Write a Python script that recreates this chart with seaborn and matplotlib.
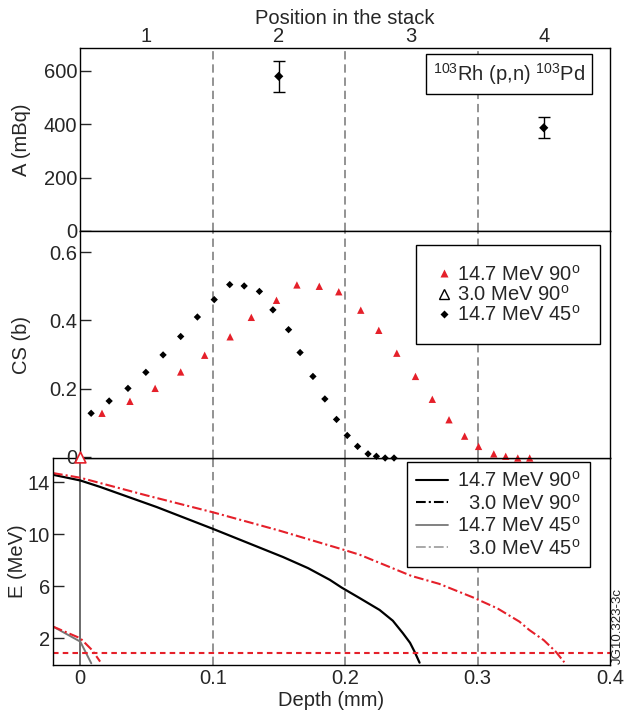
import matplotlib
matplotlib.use("Agg")
import matplotlib.pyplot as plt
import seaborn as sns
from matplotlib.lines import Line2D

# activity of the foils
act_depth = [0.15, 0.35]
act_mbq = [580, 387]
act_err = [58, 40]
pos_depth = [0.05, 0.15, 0.25, 0.35]
pos_labels = ["1", "2", "3", "4"]

# cross sections seen along the stack
cs90_depth = [0.0166, 0.0377, 0.0567, 0.0760, 0.0941, 0.1133, 0.1293, 0.1483, 0.1637, 0.1806, 0.1953, 0.2119,
              0.2255, 0.2391, 0.2532, 0.2659, 0.2785, 0.2903, 0.3008, 0.3123, 0.3213, 0.3304, 0.3394]
cs90 = [0.128, 0.163, 0.201, 0.249, 0.298, 0.352, 0.409, 0.459, 0.504, 0.500, 0.484, 0.430,
        0.371, 0.304, 0.236, 0.169, 0.109, 0.061, 0.031, 0.009, 0.002, -0.003, -0.003]
cs45_depth = [0.0084, 0.0220, 0.0362, 0.0497, 0.0627, 0.0760, 0.0886, 0.1013, 0.1130, 0.1239, 0.1354, 0.1456,
              0.1574, 0.1661, 0.1758, 0.1848, 0.1936, 0.2017, 0.2095, 0.2174, 0.2237, 0.2303, 0.2370]
cs45 = [0.128, 0.164, 0.201, 0.248, 0.299, 0.353, 0.410, 0.461, 0.505, 0.501, 0.485, 0.431,
        0.373, 0.306, 0.236, 0.170, 0.110, 0.063, 0.031, 0.009, 0.002, -0.003, -0.003]
cs3_depth = [0.0]
cs3 = [0.0]

# proton energy vs depth
e147_90_depth = [-0.0206, 0.0, 0.0151, 0.0578, 0.1005, 0.1532, 0.1720, 0.1884, 0.1974, 0.211, 0.226, 0.2360,
                 0.2436, 0.2490, 0.2524, 0.2562]
e147_90 = [14.59, 14.15, 13.65, 12.10, 10.41, 8.25, 7.40, 6.5, 5.9, 5.09, 4.18, 3.35,
           2.39, 1.65, 0.97, 0.12]
e_long_depth = [-0.0206, 0.0, 0.0151, 0.05, 0.1005, 0.15, 0.1974, 0.211, 0.25, 0.271, 0.2969, 0.315, 0.3316,
                0.339, 0.35, 0.359, 0.3655]
e_long = [14.72, 14.36, 13.95, 13.0, 11.69, 10.3, 8.86, 8.43, 6.8, 6.19, 5.13, 4.3, 3.28,
          2.64, 1.85, 0.97, 0.15]
e_short_depth = [-0.0206, 0.0, 0.0088, 0.015]
e_short = [2.9, 2.0, 1.1, 0.2]
e_gray_depth = [-0.0206, 0.0, 0.0083]
e_gray = [2.9, 1.74, 0.07]
e_threshold = 0.9

red = "#e5202a"
sns.set_style("white")
plt.rcParams["font.family"] = ["Liberation Sans", "DejaVu Sans"]
plt.rcParams["mathtext.fontset"] = "custom"
plt.rcParams["mathtext.rm"] = "Liberation Sans"
plt.rcParams["mathtext.it"] = "Liberation Sans:italic"
plt.rcParams["lines.scale_dashes"] = False
fs = 14.5
dashdot = (0, (7, 2.2, 1.5, 2.2))
grid_dash = (0, (6, 3.5))

fig = plt.figure(figsize=(6.24, 7.18), dpi=100)
ax1 = fig.add_axes([80 / 624, 1 - 231 / 718, 530 / 624, 183.5 / 718])
ax3 = fig.add_axes([53 / 624, 1 - 665 / 718, 557 / 624, 207 / 718])
ax2 = fig.add_axes([80 / 624, 1 - 458 / 718, 530 / 624, 227 / 718], zorder=3)

for ax in (ax1, ax2, ax3):
    for s in ax.spines.values():
        s.set_color("black")
        s.set_linewidth(1.0)
    for d in (0.1, 0.2, 0.3):
        ax.axvline(d, color="#8a8a8a", lw=1.3, ls=grid_dash, zorder=0)
    ax.tick_params(axis="y", direction="in", length=8, width=1, pad=2, labelsize=fs, left=True)

# top panel: activity
ax1.errorbar(act_depth, act_mbq, yerr=act_err, fmt="none", ecolor="black", elinewidth=1, capsize=4)
sns.scatterplot(x=act_depth, y=act_mbq, ax=ax1, marker="D", color="black", s=22, edgecolor="none")
ax1.set_xlim(0, 0.4)
ax1.set_ylim(0, 688)
ax1.set_yticks([0, 200, 400, 600])
ax1.set_xticks(pos_depth, pos_labels)
ax1.xaxis.tick_top()
ax1.xaxis.set_label_position("top")
ax1.tick_params(axis="x", length=0, pad=1, labelsize=fs)
ax1.set_xlabel("Position in the stack", fontsize=fs, labelpad=2)
ax1.set_ylabel("A (mBq)", fontsize=fs)
ax1.yaxis.set_label_coords(-0.092, 0.5)
ax1.text(0.81, 0.853, r"$^{103}$Rh (p,n) $^{103}$Pd", transform=ax1.transAxes, fontsize=fs,
         ha="center", va="center",
         bbox=dict(boxstyle="square,pad=0.35", fc="white", ec="black", lw=1))

# middle panel: cross section
sns.scatterplot(x=cs90_depth, y=cs90, ax=ax2, marker="^", color=red, s=28, edgecolor="none", clip_on=False)
sns.scatterplot(x=cs45_depth, y=cs45, ax=ax2, marker="D", color="black", s=14, edgecolor="none", clip_on=False)
sns.scatterplot(x=cs3_depth, y=cs3, ax=ax2, marker="^", facecolor="white", edgecolor=red, linewidth=1.2,
                s=60, clip_on=False, zorder=5)
ax2.set_xlim(0, 0.4)
ax2.set_ylim(-0.003, 0.662)
ax2.set_yticks([0, 0.2, 0.4, 0.6], ["0", "0.2", "0.4", "0.6"])
ax2.set_xticks([])
ax2.set_ylabel("CS (b)", fontsize=fs)
ax2.yaxis.set_label_coords(-0.092, 0.5)
h2 = [Line2D([], [], ls="none", marker="^", color=red, ms=6, mec="none"),
      Line2D([], [], ls="none", marker="^", mfc="white", mec="black", ms=7, mew=1),
      Line2D([], [], ls="none", marker="D", color="black", ms=4, mec="none")]
l2 = ["14.7 MeV 90$^{\\mathrm{o}}$", "3.0 MeV 90$^{\\mathrm{o}}$", "14.7 MeV 45$^{\\mathrm{o}}$"]
leg2 = ax2.legend(h2, l2, loc="upper right", bbox_to_anchor=(0.981, 0.938), borderaxespad=0,
                  fontsize=fs, frameon=True, fancybox=False, edgecolor="black", framealpha=1,
                  borderpad=0.95, handlelength=0.9, handletextpad=0.2, labelspacing=0.02)
leg2.get_frame().set_linewidth(1)

# bottom panel: energy
ax3.axvline(0, color="#444444", lw=1.1, zorder=1)
sns.lineplot(x=e147_90_depth, y=e147_90, ax=ax3, color="black", lw=1.6, sort=False, estimator=None)
sns.lineplot(x=e_long_depth, y=e_long, ax=ax3, color=red, lw=1.5, ls=dashdot, sort=False, estimator=None)
sns.lineplot(x=e_gray_depth, y=e_gray, ax=ax3, color="#777777", lw=1.4, sort=False, estimator=None)
sns.lineplot(x=e_short_depth, y=e_short, ax=ax3, color=red, lw=1.5, ls=dashdot, sort=False, estimator=None)
ax3.axhline(e_threshold, color=red, lw=1.5, ls=(0, (4, 3)))
ax3.set_xlim(-0.0206, 0.4)
ax3.set_ylim(-0.06, 15.88)
ax3.set_yticks([2, 6, 10, 14])
ax3.set_xticks([0, 0.1, 0.2, 0.3, 0.4], ["0", "0.1", "0.2", "0.3", "0.4"])
ax3.tick_params(axis="x", length=0, pad=3, labelsize=fs)
ax3.set_xlabel("Depth (mm)", fontsize=fs, labelpad=2)
ax3.set_ylabel("E (MeV)", fontsize=fs)
ax3.yaxis.set_label_coords(-0.047, 0.5)
h3 = [Line2D([], [], color="black", lw=1.5),
      Line2D([], [], color="black", lw=1.5, ls=dashdot),
      Line2D([], [], color="#777777", lw=1.3),
      Line2D([], [], color="#999999", lw=1.2, ls=dashdot)]
l3 = ["14.7 MeV 90$^{\\mathrm{o}}$", "  3.0 MeV 90$^{\\mathrm{o}}$",
      "14.7 MeV 45$^{\\mathrm{o}}$", "  3.0 MeV 45$^{\\mathrm{o}}$"]
leg3 = ax3.legend(h3, l3, loc="upper right", bbox_to_anchor=(0.964, 0.981), borderaxespad=0,
                  fontsize=fs, frameon=True, fancybox=False, edgecolor="black", framealpha=1,
                  borderpad=0.45, handlelength=1.6, handletextpad=0.45, labelspacing=0.12)
leg3.get_frame().set_linewidth(1)

fig.text(0.99, 1 - 626 / 718, "JG10.323-3c", rotation=90, fontsize=9.5, ha="center", va="center")

fig.savefig("out.png", dpi=100)
